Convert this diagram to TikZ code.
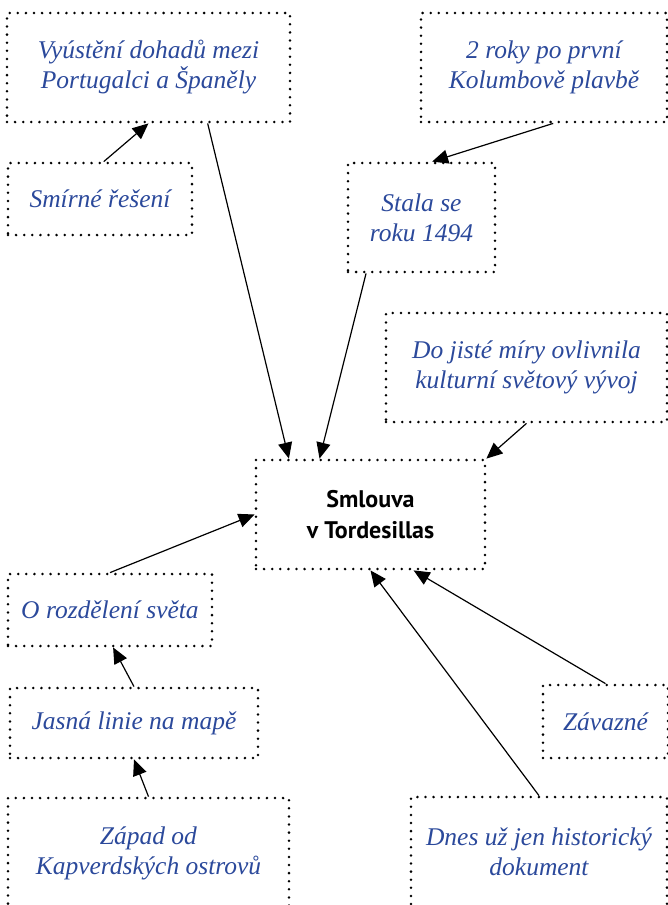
\documentclass[tikz,border=0pt]{standalone}
\usepackage{fontspec}
\setmainfont{Liberation Serif}
\newfontfamily\boldsans{PT Sans}
\usetikzlibrary{arrows.meta,calc}
\definecolor{txtblue}{RGB}{43,73,155}
\tikzset{
  dotbox/.style={draw=black, line width=2.8pt, dash pattern=on 0pt off 8.1pt, line cap=round,
    rectangle, inner sep=0pt, align=center, text=txtblue,
    font=\fontsize{25.5}{30}\selectfont\itshape},
  conn/.style={draw=black, line width=1.2pt, -{Triangle[length=16pt,width=14pt]}, shorten >=0pt}
}
\begin{document}
\begin{tikzpicture}[x=1pt,y=-1pt]
\useasboundingbox (0,0) rectangle (668,905);
\node[dotbox, minimum width=283, minimum height=109] (A) at (148.5,67.5) {Vyústění dohadů mezi\\Portugalci a Španěly};
\node[dotbox, minimum width=184, minimum height=72] (B) at (100,199) {Smírné řešení};
\node[dotbox, minimum width=246, minimum height=109] (C) at (544,67.5) {2 roky po první\\Kolumbově plavbě};
\node[dotbox, minimum width=147, minimum height=109] (D) at (421.5,217.5) {Stala se\\roku 1494};
\node[dotbox, minimum width=281, minimum height=109] (E) at (526.5,367.5) {Do jisté míry ovlivnila\\kulturní světový vývoj};
\node[dotbox, minimum width=229, minimum height=109, text=black, font=\fontsize{24}{31}\selectfont\boldsans\bfseries] (T) at (370.5,514.5) {Smlouva\\v Tordesillas};
\node[dotbox, minimum width=204, minimum height=72] (F) at (110,610) {O rozdělení světa};
\node[dotbox, minimum width=248, minimum height=70] (G) at (134,723) {Jasná linie na mapě};
\node[dotbox, minimum width=281, minimum height=110] (H) at (148.5,853) {Západ od\\Kapverdských ostrovů};
\node[dotbox, minimum width=125, minimum height=73] (I) at (605.5,721.5) {Závazné};
\node[dotbox, minimum width=256, minimum height=110] (J) at (539,852) {Dnes už jen historický\\dokument};

\draw[conn] ($(B.north west)!0.52!(B.north east)$) -- (A.south);
\draw[conn] ($(A.south west)!0.707!(A.south east)$) -- ($(T.north west)!0.148!(T.north east)$);
\draw[conn] ($(C.south west)!0.537!(C.south east)$) -- ($(D.north west)!0.571!(D.north east)$);
\draw[conn] ($(D.south west)!0.13!(D.south east)$) -- ($(T.north west)!0.28!(T.north east)$);
\draw[conn] (E.south) -- (T.north east);
\draw[conn] (F.north) -- (T.west);
\draw[conn] (G.north) -- ($(F.south west)!0.515!(F.south east)$);
\draw[conn] (H.north) -- (G.south);
\draw[conn] (I.north) -- ($(T.south west)!0.686!(T.south east)$);
\draw[conn] (J.north) -- (T.south);
\end{tikzpicture}
\end{document}
